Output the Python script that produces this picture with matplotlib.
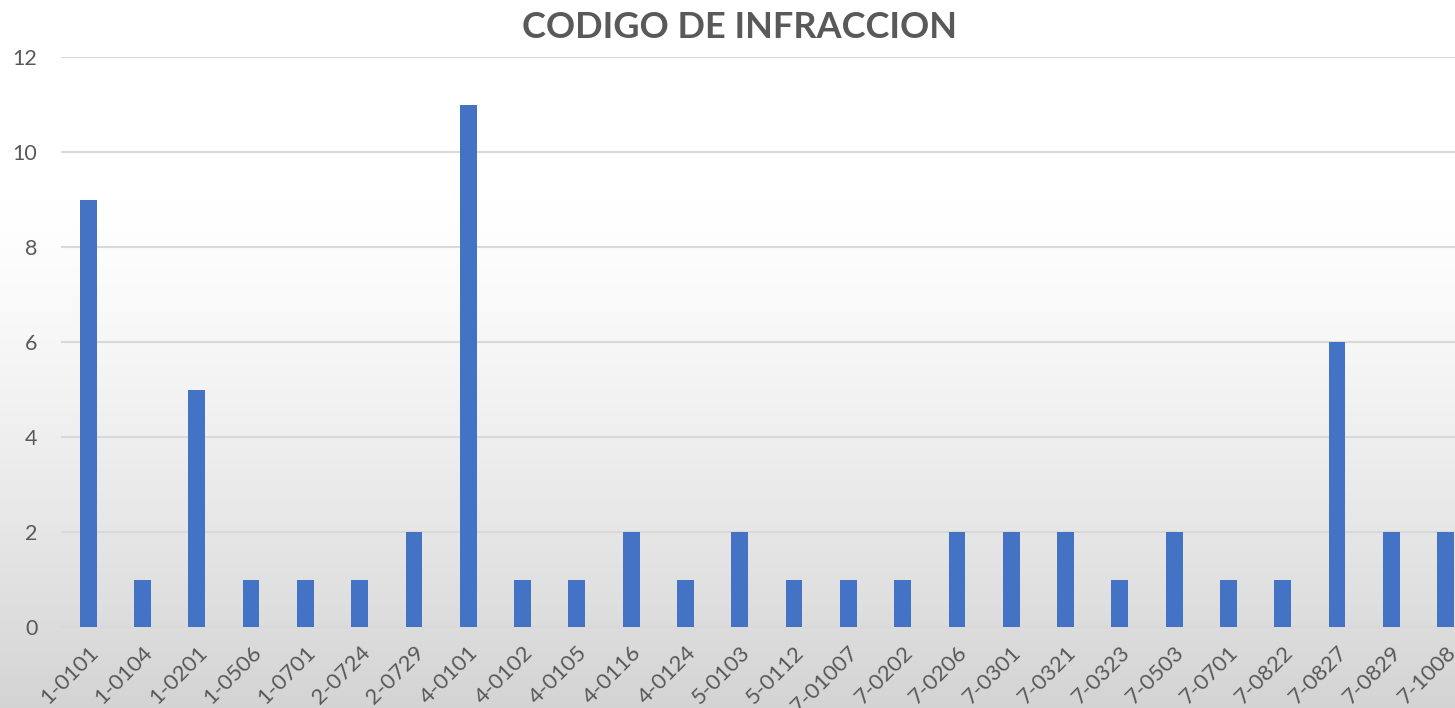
import numpy as np
import matplotlib
matplotlib.use("Agg")
import matplotlib.pyplot as plt

categories = ["1-0101", "1-0104", "1-0201", "1-0506", "1-0701", "2-0724", "2-0729",
              "4-0101", "4-0102", "4-0105", "4-0116", "4-0124", "5-0103", "5-0112",
              "7-01007", "7-0202", "7-0206", "7-0301", "7-0321", "7-0323", "7-0503",
              "7-0701", "7-0822", "7-0827", "7-0829", "7-1008"]
values = [9, 1, 5, 1, 1, 1, 2, 11, 1, 1, 2, 1, 2, 1, 1, 1, 2, 2, 2, 1, 2, 1, 1, 6, 2, 2]
y_ticks = [0, 2, 4, 6, 8, 10, 12]
title = "CODIGO DE INFRACCION"

plt.rcParams['font.family'] = ['Lato', 'DejaVu Sans']
W, H = 1455, 708
fig = plt.figure(figsize=(W/100, H/100), dpi=100)

# background gradient
bg = fig.add_axes([0, 0, 1, 1], zorder=0)
rows = np.arange(H)
t = np.clip((rows - 200) / (H - 200), 0, 1)
vals = 1.0 - 0.17 * t**1.3
img = np.dstack([vals, vals, vals]).reshape(H, 1, 3)
bg.imshow(img, aspect='auto', extent=[0, 1, 0, 1], origin='upper')
bg.axis('off')

left = 61 / W
bottom = (H - 627) / H
top = (H - 57) / H
width = 26 * 54.3 / W
ax = fig.add_axes([left, bottom, width, top - bottom], zorder=1)
ax.patch.set_alpha(0)
x = np.arange(len(categories))
ax.bar(x, values, width=0.31, color='#4472C4', zorder=3)
ax.set_xlim(-0.5, len(categories) - 0.5)
ax.set_ylim(0, 12)
ax.set_yticks(y_ticks)
ax.set_xticks(x)
ax.set_xticklabels(categories, rotation=45, ha='right', rotation_mode='anchor')
ax.tick_params(axis='both', length=0, labelcolor='#595959')
ax.tick_params(axis='y', pad=17, labelsize=15.5)
ax.tick_params(axis='x', pad=11, labelsize=16)
ax.grid(axis='y', color='#d9d9d9', linewidth=1.5, zorder=0)
for s in ['top', 'right', 'left']:
    ax.spines[s].set_visible(False)
ax.spines['bottom'].set_color('#d9d9d9')
ax.spines['bottom'].set_linewidth(1.5)

fig.text(740 / W, 1 - 28 / H, title, ha='center', va='center', fontsize=26,
         fontweight='bold', color='#595959')

fig.savefig('out.png', dpi=100)
